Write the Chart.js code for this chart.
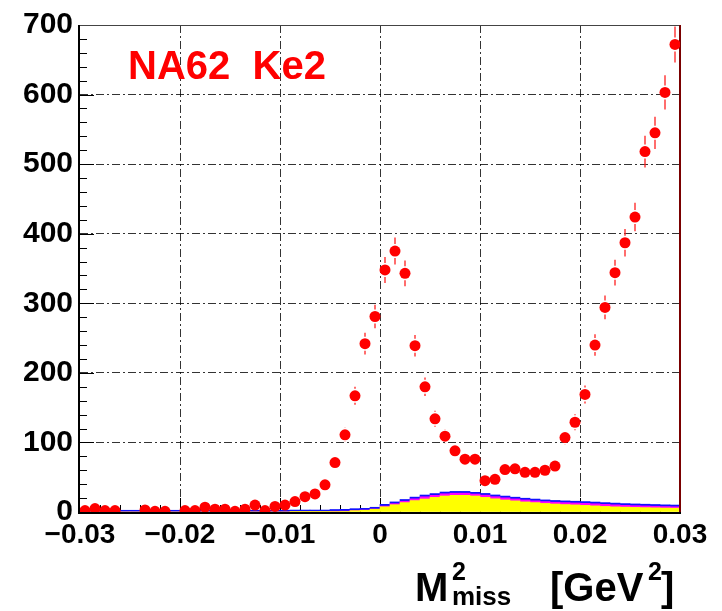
<!DOCTYPE html>
<html>
<head>
<meta charset="utf-8">
<script src="https://cdn.jsdelivr.net/npm/chart.js@4.4.1/dist/chart.umd.min.js"></script>
<style>
  body { margin: 0; background: #fff; }
  #wrap { position: relative; width: 722px; height: 611px; }
  canvas { display: block; }
  .lbl { position: absolute; font-family: "Liberation Sans", Arial, sans-serif; font-weight: bold; line-height: 1; white-space: pre; color: #000; }
</style>
</head>
<body>
<div id="wrap">
  <canvas id="myChart" width="722" height="611"></canvas>
  <div class="lbl" style="left:128px; top:45px; font-size:40px; color:#ff0000;">NA62  Ke2</div>
  <div class="lbl" style="left:415px; top:567px; font-size:40px;">M</div>
  <div class="lbl" style="left:452px; top:559px; font-size:25px;">2</div>
  <div class="lbl" style="left:452px; top:583px; font-size:26px;">miss</div>
  <div class="lbl" style="left:550px; top:567px; font-size:40px;">[GeV</div>
  <div class="lbl" style="left:648px; top:559px; font-size:25px;">2</div>
  <div class="lbl" style="left:661px; top:567px; font-size:40px;">]</div>
</div>
<script>
// bin centres of the M2miss histogram (GeV^2), bin width 0.001
const binCenters = [
  -0.0295, -0.0285, -0.0275, -0.0265, -0.0255, -0.0245, -0.0235, -0.0225, -0.0215, -0.0205,
  -0.0195, -0.0185, -0.0175, -0.0165, -0.0155, -0.0145, -0.0135, -0.0125, -0.0115, -0.0105,
  -0.0095, -0.0085, -0.0075, -0.0065, -0.0055, -0.0045, -0.0035, -0.0025, -0.0015, -0.0005,
  0.0005, 0.0015, 0.0025, 0.0035, 0.0045, 0.0055, 0.0065, 0.0075, 0.0085, 0.0095,
  0.0105, 0.0115, 0.0125, 0.0135, 0.0145, 0.0155, 0.0165, 0.0175, 0.0185, 0.0195,
  0.0205, 0.0215, 0.0225, 0.0235, 0.0245, 0.0255, 0.0265, 0.0275, 0.0285, 0.0295
];

// data counts (red points)
const counts = [
  2, 5, 2, 2, null, null, 3, 1, 1, null,
  2, 2, 7, 4, 4, 1, 4, 10, 2, 8,
  10, 15, 22, 26, 39, 71, 111, 167, 242, 281,
  348, 375, 343, 239, 180, 134, 109, 88, 76, 76,
  45, 47, 61, 62, 57, 57, 60, 66, 107, 129,
  169, 240, 294, 344, 387, 424, 518, 545, 603, 672
];
const errors = [
  1.4, 2.2, 1.4, 1.4, null, null, 1.7, 1, 1, null,
  1.4, 1.4, 2.6, 2, 2, 1, 2, 3.2, 1.4, 2.8,
  3.2, 3.9, 4.7, 5.1, 6.2, 8.4, 10.5, 12.9, 15.6, 16.8,
  18.7, 19.4, 18.5, 15.5, 13.4, 11.6, 10.4, 9.4, 8.7, 8.7,
  6.7, 6.9, 7.8, 7.9, 7.5, 7.5, 7.7, 8.1, 10.3, 11.4,
  13, 15.5, 17.1, 18.5, 19.7, 20.6, 22.8, 23.3, 24.6, 25.9
];

// backgrounds (stacked, bottom to top)
const bgYellow = [
  0, 0, 0, 0, 0, 0, 0, 0, 0, 0,
  0, 0, 0, 0, 0, 0, 0, 0, 0, 0,
  0, 0.3, 0.3, 0.3, 0.3, 0.8, 1, 2, 2.5, 4,
  7.5, 10.5, 13.5, 16.4, 18.7, 21, 23, 24, 24, 23,
  21, 19, 17.3, 16, 14.5, 13.5, 12.3, 11.5, 10.7, 10.2,
  9.5, 8.8, 8, 7.4, 7, 6.6, 6.3, 6, 5.7, 5.5
];
const bgMagenta = [
  0, 0, 0, 0, 0, 0, 0, 0, 0, 0,
  0, 0, 0, 0, 0, 0, 0, 0, 0, 0,
  0, 0, 0, 0, 0, 0.3, 0.3, 0.3, 0.3, 0.3,
  1, 1.5, 2, 2.5, 3.2, 3, 3.2, 3.1, 3.1, 2.8,
  3.2, 3, 3.1, 2.8, 2.8, 2.6, 2.6, 2.6, 2.8, 2.8,
  3, 3, 3, 2.9, 2.6, 2.5, 2.4, 2.3, 2.1, 2
];
const bgBlue = [
  2.5, 2.5, 2.5, 2.5, 2.5, 2.5, 2.5, 2.5, 2.5, 2.5,
  2.5, 2.5, 2.5, 2.5, 2.5, 2.5, 2.5, 2.5, 2.5, 2.5,
  2.5, 2.5, 2.5, 2.5, 2.5, 2.5, 2.5, 2.5, 2.5, 2.5,
  2.5, 2.5, 2.5, 2.5, 2.5, 2.5, 2.5, 2.5, 2.5, 2.5,
  2.5, 2.5, 2.5, 2.5, 2.5, 2.5, 2.5, 2.5, 2.5, 2.5,
  2.5, 2.5, 2.5, 2.5, 2.5, 2.5, 2.5, 2.5, 2.5, 2.5
];

const FONT = '"Liberation Sans", Arial, sans-serif';
const MARKER_R = 5.5;
const pts = (arr) => binCenters.map((x, i) => ({x: x, y: arr[i]}));

// ticks, frame and error bars in ROOT style
const rootFrame = {
  id: 'rootFrame',
  beforeDatasetsDraw(chart) {
    const c = chart.ctx, a = chart.chartArea;
    const xs = chart.scales.x, ys = chart.scales.y;
    c.save();
    c.strokeStyle = '#000';
    c.lineWidth = 1;
    c.beginPath();
    for (let k = 1; k < 35; k++) {
      const py = Math.round(ys.getPixelForValue(k * 20)) + 0.5;
      const len = k % 5 === 0 ? 14 : 7;
      c.moveTo(a.left, py); c.lineTo(a.left + len, py);
    }
    for (let k = 1; k < 30; k++) {
      const px = Math.round(xs.getPixelForValue(-0.03 + k * 0.002)) + 0.5;
      const len = k % 5 === 0 ? 14 : 7;
      c.moveTo(px, a.bottom); c.lineTo(px, a.bottom - len);
    }
    c.stroke();
    c.restore();
  },
  beforeDatasetDraw(chart, args) {
    if (args.index !== 3) return;
    const c = chart.ctx, a = chart.chartArea;
    const xs = chart.scales.x, ys = chart.scales.y;
    c.save();
    // frame
    c.lineWidth = 1;
    c.strokeStyle = '#444';
    c.beginPath(); c.moveTo(a.left, a.top + 0.5); c.lineTo(a.right, a.top + 0.5); c.stroke();
    c.lineWidth = 2;
    c.strokeStyle = '#7a0000';
    c.beginPath(); c.moveTo(a.right, a.top); c.lineTo(a.right, a.bottom); c.stroke();
    c.strokeStyle = '#000';
    c.beginPath(); c.moveTo(a.left - 1, a.top); c.lineTo(a.left - 1, a.bottom + 2); c.stroke();
    c.beginPath(); c.moveTo(a.left - 2, a.bottom + 1); c.lineTo(a.right + 1, a.bottom + 1); c.stroke();
    // error bars, with a small gap around the marker
    c.strokeStyle = '#ff2020';
    c.lineWidth = 1.3;
    c.beginPath();
    binCenters.forEach((x, i) => {
      if (counts[i] === null) return;
      const px = xs.getPixelForValue(x);
      const py = ys.getPixelForValue(counts[i]);
      const hi = ys.getPixelForValue(counts[i] + errors[i]);
      const lo = ys.getPixelForValue(counts[i] - errors[i]);
      const gap = MARKER_R + 1.5;
      if (py - hi > gap) { c.moveTo(px, hi); c.lineTo(px, py - gap); }
      if (lo - py > gap) { c.moveTo(px, py + gap); c.lineTo(px, lo); }
    });
    c.stroke();
    c.restore();
  }
};

const ctx = document.getElementById('myChart').getContext('2d');
const myChart = new Chart(ctx, {
  type: 'bar',
  data: {
    datasets: [
      {label: 'bg1', data: pts(bgYellow), backgroundColor: '#ffff00', stack: 'bg', order: 1},
      {label: 'bg2', data: pts(bgMagenta), backgroundColor: '#ff00ff', stack: 'bg', order: 2},
      {label: 'bg3', data: pts(bgBlue), backgroundColor: '#1010ff', stack: 'bg', order: 3},
      {
        type: 'line',
        label: 'data',
        data: pts(counts),
        stack: 'pts',
        showLine: false,
        pointRadius: MARKER_R,
        pointHoverRadius: MARKER_R,
        pointBackgroundColor: '#ff0000',
        pointBorderWidth: 0,
        order: 0
      }
    ]
  },
  options: {
    responsive: false,
    animation: false,
    layout: {padding: {top: 18, right: 42, left: 0, bottom: 0}},
    plugins: {legend: {display: false}, tooltip: {enabled: false}},
    datasets: {bar: {barPercentage: 1, categoryPercentage: 1, borderWidth: 0}},
    scales: {
      x: {
        type: 'linear',
        min: -0.03,
        max: 0.03,
        offset: false,
        afterFit: (s) => { s.height = 99; },
        grid: {
          offset: false,
          drawTicks: false,
          lineWidth: 1,
          color: (c) => Math.abs(Math.abs(c.tick.value) - 0.03) < 1e-9 ? 'rgba(0,0,0,0)' : 'rgba(0,0,0,0.8)'
        },
        border: {display: false, dash: [8, 3, 2, 3]},
        ticks: {
          stepSize: 0.01,
          autoSkip: false,
          maxRotation: 0,
          padding: 6,
          color: '#000',
          font: {family: FONT, size: 28, weight: 'bold'},
          callback: (v) => Math.abs(v) < 1e-9 ? '0' : (v < 0 ? '\u2212' : '') + Math.abs(v).toFixed(2)
        }
      },
      y: {
        stacked: true,
        min: 0,
        max: 700,
        afterFit: (s) => { s.width = 80; },
        grid: {
          drawTicks: false,
          lineWidth: 1,
          color: (c) => (c.tick.value === 0 || c.tick.value === 700) ? 'rgba(0,0,0,0)' : 'rgba(0,0,0,0.8)'
        },
        border: {display: false, dash: [8, 3, 2, 3]},
        ticks: {
          stepSize: 100,
          padding: 7,
          color: '#000',
          font: {family: FONT, size: 30, weight: 'bold'}
        }
      }
    }
  },
  plugins: [rootFrame]
});
</script>
</body>
</html>
